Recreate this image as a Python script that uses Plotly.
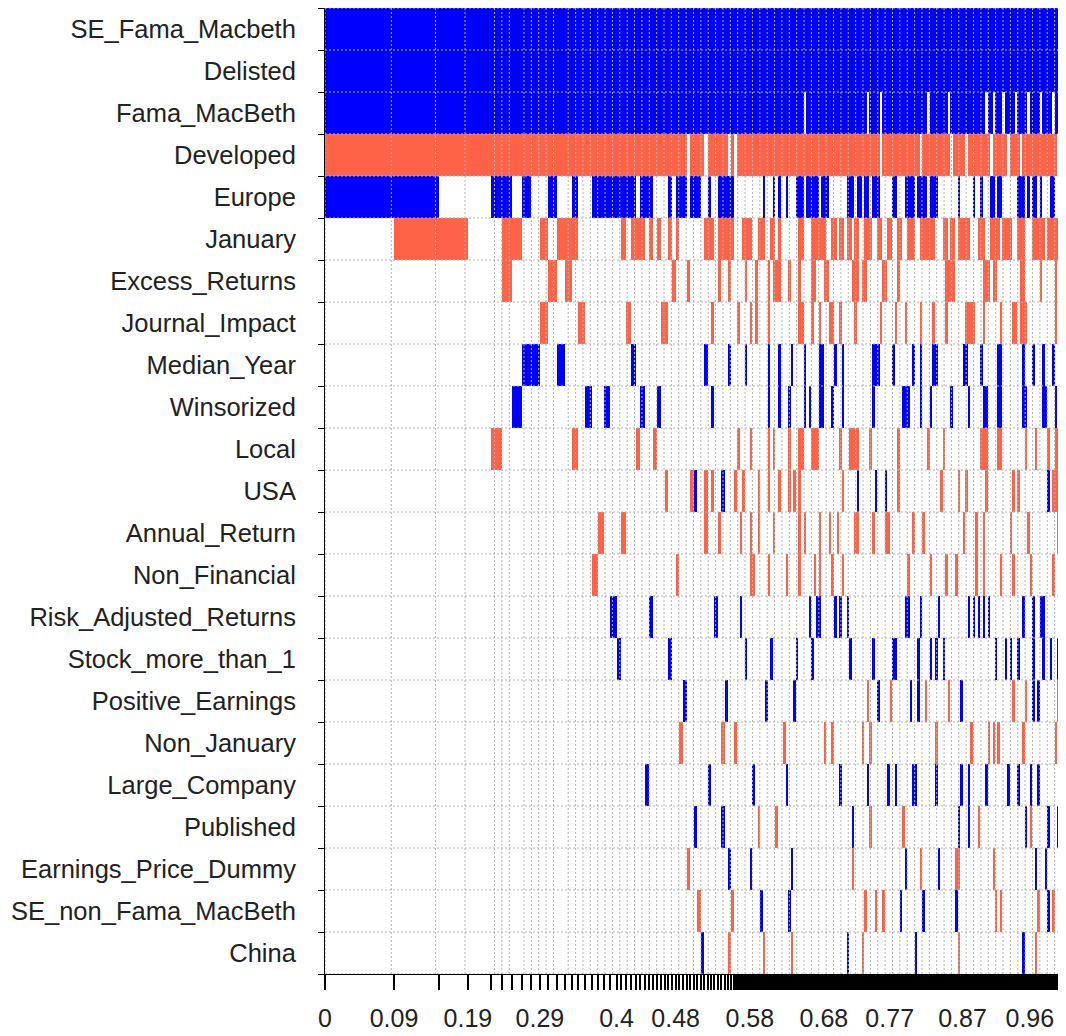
import plotly.graph_objects as go

# ---------------- data ----------------
variables = [
    "SE_Fama_Macbeth", "Delisted", "Fama_MacBeth", "Developed", "Europe", "January",
    "Excess_Returns", "Journal_Impact", "Median_Year", "Winsorized", "Local", "USA",
    "Annual_Return", "Non_Financial", "Risk_Adjusted_Returns", "Stock_more_than_1",
    "Positive_Earnings", "Non_January", "Large_Company", "Published",
    "Earnings_Price_Dummy", "SE_non_Fama_MacBeth", "China",
]

# posterior model probabilities of the best models
pmp_top = [0.0936, 0.0611, 0.0393, 0.0312, 0.0149, 0.0136, 0.0136, 0.0122, 0.0122, 0.0115,
           0.0115, 0.0108, 0.0095, 0.0090, 0.0090, 0.0090, 0.0086, 0.0085, 0.0084, 0.0083,
           0.0066, 0.0065, 0.0065, 0.0064, 0.0064, 0.0064]
pmp_mid = [0.0054, 0.0053, 0.0053, 0.0052, 0.0051, 0.0051, 0.0050, 0.0050, 0.0049, 0.0049,
           0.0049, 0.0048, 0.0048, 0.0048, 0.0047, 0.0047, 0.0047, 0.0047, 0.0046, 0.0046,
           0.0046, 0.0046, 0.0045, 0.0045, 0.0045]
pmp_tail = [
    0.00348, 0.00348, 0.00348, 0.00348, 0.00348, 0.00348, 0.00348, 0.00348, 0.00348, 0.00348,
    0.00347, 0.00347, 0.00347, 0.00347, 0.00347, 0.00347, 0.00347, 0.00347, 0.00347, 0.00347,
    0.00346, 0.00346, 0.00346, 0.00346, 0.00346, 0.00346, 0.00346, 0.00346, 0.00346, 0.00346,
    0.00345, 0.00345, 0.00345, 0.00345, 0.00345, 0.00345, 0.00345, 0.00345, 0.00345, 0.00345,
    0.00344, 0.00344, 0.00344, 0.00344, 0.00344, 0.00344, 0.00344, 0.00344, 0.00344, 0.00344,
    0.00343, 0.00343, 0.00343, 0.00343, 0.00343, 0.00343, 0.00343, 0.00343, 0.00343, 0.00343,
    0.00342, 0.00342, 0.00342, 0.00342, 0.00342, 0.00342, 0.00342, 0.00342, 0.00342, 0.00342,
    0.00341, 0.00341, 0.00341, 0.00341, 0.00341, 0.00341, 0.00341, 0.00341, 0.00341, 0.00341,
    0.00340, 0.00340, 0.00340, 0.00340, 0.00340, 0.00340, 0.00340, 0.00340, 0.00340, 0.00340,
    0.00339, 0.00339, 0.00339, 0.00339, 0.00339, 0.00339, 0.00339, 0.00339, 0.00339, 0.00339,
    0.00338, 0.00338, 0.00338, 0.00338, 0.00338, 0.00338, 0.00338, 0.00338, 0.00338, 0.00338,
    0.00337, 0.00337, 0.00337, 0.00337, 0.00337, 0.00337, 0.00337, 0.00337, 0.00337, 0.00337,
    0.00336, 0.00336, 0.00336, 0.00336, 0.00336, 0.00336, 0.00336, 0.00336, 0.00336, 0.00336,
]

# inclusion of each variable per model (1-based model numbers), sign = coefficient sign
inclusion = [
    "+1-181",
    "+1-181",
    "+1-78 +80-103 +105-108 +110-127 +129-135 +137-150 +152-153 +155-157 +159-162 +164-167 +169-172 +174-177 +179-180",
    "-1-37 -39-42 -44-49 -51 -53-108 -110-124 -126-136 -138-142 -144-152 -154-159 -161-164 -166-179 -181",
    "+1-2 +5-6 +8 +11 +14 +17-24 +26-28 +33 +35-37 +39-41 +44 +47-51 +63 +67 +69 +72 +76-78 +80-84 +86-88 "
    "+96-98 +100-101 +103-104 +106-108 +114-115 +119-122 +124-127 +129-131 +140 +146 +149 +153-154 +156-157 "
    "+164-166 +168 +170-171 +173 +177-178",
    "-2-3 -6-7 -10 -12-14 -22 -24-26 -28 -30 -33 -35 -43-45 -47-51 -55-58 -61-63 -66-67 -69 -77-78 -82-87 "
    "-90-91 -93-94 -96-97 -99-100 -103-105 -108-109 -112-113 -116-117 -120-122 -125-130 -134-135 -137-138 "
    "-140-144 -148-150 -153-156 -158-161 -164-166 -170-174 -176-181",
    "-6 -11 -13 -34 -38 -47 -50 -56 -60 -65 -67-69 -73 -77 -82-83 -87-88 -98-100 -102-103 -110-111 -116 "
    "-135-138 -150-152 -154-155 -165-166 -173 -179",
    "-10 -15 -23 -31-32 -45 -53 -58 -60 -65 -77-78 -82 -85 -89-90 -93 -99 -109 -115 -119 -125 -130 -135 "
    "-143-146 -150 -157 -162-163 -165-167 -179",
    "+8-9 +12 +24 +43 +50 +56 +65 +69 +74 +79 +85-86 +91 +94 +106-108 +114 +122 +125 +130-131 +142-143 "
    "+149 +156-157 +166 +170 +174 +178",
    "+7 +16 +19 +26 +30 +45 +65 +69 +73 +79 +81 +85-86 +90 +94 +106 +118-120 +125 +129 +137 +144 +150-151 "
    "+156-157 +166-167 +174-175 +179 +181",
    "-5 -14 -25 -29 -53 -58 -65 -67 -73 -77-78 -82-84 -93 -97-100 -105 -116 -128 -134 -149-151 -156-157 "
    "-167 -171 -176 -179-181",
    "-32 -39 +40 -43 -45 +48 -52 -55 -61 -65 -69 -73 -75 -77 -94 +100 +107 +111 -116 -133 -140 -143 -151 "
    "-162 -164 +176 -178-181",
    "-18 -22 -43 -47 -54 -58 -61 -67 -77 -79 -85 -89 -92 -99-100 -106 -111-112 -122 -126 -142 -147 -150 "
    "-161 -168 -180",
    "-17 -35 -58-59 -65 -72 -77 -83 -85 -90 -94 -120 -129 -135 -139 -147 -150 -157 -162 -169 -178",
    "+20 +28 +46 +54 +81 +84-85 +91 +93 +96 +119-120 +125 +132 +144 +146 +148 +150 +152 +166 +170 +173-174",
    "+21 +33 +56 +66 +76 +82 +97 +106 +114-115 +124 +129 +131 +134 +155 +159 +161 +164 +170 +174 +177 +180",
    "+37 +49 +64 +75 -104 +108 -113 +121 +124 -127 -136 +141 -162 -167 +170 +172 -180",
    "-36 -48 -52 -71 -87 -90 -102 -105 -131 -145 -152 -154 -156 -166 -179",
    "+27 +44 +59 +72 +93 +104 +112 +115 +122-123 +131 +141 +144 +151 +160 +164 +169 +172",
    "+40 +48 -61 -68 +98 -105 -118 +140 +144 -148 +167 -169 +176 +180",
    "-38 +50 +58 +74 -98 +119 -125 +132 -139-140 -154 +171 +175",
    "-41 -51 +62 +73 -103 -107 -110 +117 +126 +139 -155 -157 -172 +176 -178",
    "+42 -50 -63 -74 +96 -102 +123 -140 +166 -171",
]

x_tick_labels = ["0", "0.09", "0.19", "0.29", "0.4", "0.48", "0.58", "0.68", "0.77", "0.87", "0.96"]

# ---------------- build ----------------
pmps = pmp_top + pmp_mid + pmp_tail
n_models = len(pmps)
total = sum(pmps)
bounds = [0.0]
acc = 0.0
for p in pmps:
    acc += p
    bounds.append(acc / total)


def parse(spec, n):
    row = [None] * n
    for tok in spec.split():
        sign = 1 if tok[0] == "+" else -1
        rng = tok[1:]
        if "-" in rng:
            a, b = (int(v) for v in rng.split("-"))
        else:
            a = b = int(rng)
        for m in range(a, min(b, n) + 1):
            row[m - 1] = sign
    return row


z = [parse(s, n_models) for s in inclusion]
rows = list(range(len(variables)))

# tick text: each label at the first model boundary with that rounded value
ticktext = [""] * len(bounds)
for lab in x_tick_labels:
    v = float(lab)
    for i, b in enumerate(bounds):
        if abs(round(b, 2) - v) < 1e-9:
            ticktext[i] = lab
            break

# extra tick marks inside the many small models (ticks merge into a solid band there)
n_head = len(pmp_top) + len(pmp_mid)
tail_mid_ticks = [(bounds[i] + bounds[i + 1]) / 2 for i in range(n_head, n_models)]

font_family = "Liberation Sans, Arial, sans-serif"
text_color = "#222222"

fig = go.Figure()
fig.add_trace(go.Heatmap(
    x=bounds, y=rows, z=z,
    zmin=-1, zmax=1,
    colorscale=[[0, "#FF6347"], [0.5, "#FF6347"], [0.5, "#0000FF"], [1, "#0000FF"]],
    showscale=False, hoverinfo="skip", xgap=0, ygap=0,
))

# dotted grey grid drawn over the image (as in BMS image plots)
gx, gy = [], []
for v in sorted(set(round(b, 2) for b in bounds)):
    gx += [v, v, None]
    gy += [-0.5, len(variables) - 0.5, None]
for k in range(len(variables) + 1):
    gx += [0, 1, None]
    gy += [k - 0.5, k - 0.5, None]
fig.add_trace(go.Scatter(
    x=gx, y=gy, mode="lines",
    line=dict(color="#b4b4b4", width=1, dash="2px,2px"),
    hoverinfo="skip", showlegend=False,
))

# the page body keeps its default 8px margin, so the figure is 8px smaller each way
fig.update_layout(
    width=1058, height=1028,
    margin=dict(l=317, r=4, t=0, b=62, pad=0),
    paper_bgcolor="white", plot_bgcolor="white",
    showlegend=False,
    xaxis=dict(
        range=[0, 1], tickmode="array", tickvals=bounds, ticktext=ticktext,
        ticks="outside", ticklen=15, tickwidth=2, tickcolor="black",
        showgrid=False, zeroline=False, showline=True, linecolor="black", linewidth=1,
        tickangle=0, ticklabelstandoff=7, automargin=False,
        tickfont=dict(family=font_family, size=25, color=text_color),
        minor=dict(tickmode="array", tickvals=tail_mid_ticks, ticks="outside",
                   ticklen=15, tickwidth=2, tickcolor="black", showgrid=False),
    ),
    yaxis=dict(
        range=[len(variables) - 0.5, -0.5], tickmode="array", tickvals=rows, ticktext=variables,
        ticks="", showgrid=False, zeroline=False, showline=True, linecolor="black", linewidth=1,
        ticklabelstandoff=23, automargin=False,
        tickfont=dict(family=font_family, size=25.5, color=text_color),
        minor=dict(tickmode="array", tickvals=[k - 0.5 for k in range(len(variables) + 1)],
                   ticks="outside", ticklen=6, tickwidth=1, tickcolor="black", showgrid=False),
    ),
)

fig.write_html("out.html")
